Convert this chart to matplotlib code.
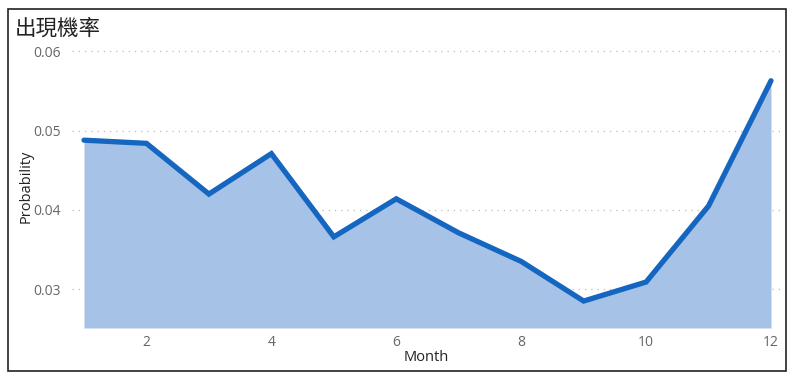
import matplotlib
matplotlib.use("Agg")
import matplotlib.pyplot as plt
from matplotlib.patches import Rectangle

plt.rcParams['font.family'] = ['Open Sans', 'Noto Sans CJK TC', 'DejaVu Sans']

# datos
meses = [1, 2, 3, 4, 5, 6, 7, 8, 9, 10, 11, 12]
probabilidad = [0.0488, 0.0484, 0.0420, 0.0471, 0.0366, 0.0414,
                0.0371, 0.0335, 0.0285, 0.0309, 0.0405, 0.0563]
ticks_y = [0.03, 0.04, 0.05, 0.06]
ticks_x = [2, 4, 6, 8, 10, 12]
titulo = "出現機率"

fig = plt.figure(figsize=(8, 3.82), dpi=100)
ax = fig.add_axes([0.09, 0.1414, 0.885, 0.7406])

y_min = 0.0251
ax.fill_between(meses, probabilidad, y_min, color='#a6c2e6', linewidth=0)
ax.plot(meses, probabilidad, color='#1466c0', linewidth=3.8,
        solid_capstyle='round', solid_joinstyle='miter')

ax.set_xlim(0.808, 12.144)
ax.set_ylim(y_min, 0.0608)
ax.set_yticks(ticks_y)
ax.set_yticklabels([f"{v:.2f}" for v in ticks_y])
ax.set_xticks(ticks_x)

ax.grid(axis='y', linestyle=(0, (1, 4)), color='#bbbbbb', linewidth=0.9)
ax.set_axisbelow(True)
for s in ax.spines.values():
    s.set_visible(False)
ax.tick_params(axis='y', length=0, labelsize=10, colors='#666666', pad=8)
ax.tick_params(axis='x', length=0, labelsize=10, colors='#666666', pad=5)

ax.set_xlabel("Month", fontsize=10.5, color='#222222', labelpad=0)
ax.set_ylabel("Probability", fontsize=10.5, color='#222222', labelpad=0)

fig.text(0.019, 0.908, titulo, fontsize=15.5, color='#222222',
         family=['Noto Sans CJK TC', 'DejaVu Sans'])

# marco exterior
fig.patches.append(Rectangle((8 / 800, 11 / 382), 778 / 800, 362 / 382,
                             transform=fig.transFigure, fill=False,
                             edgecolor='#222222', linewidth=1.2))

plt.savefig("out.png", dpi=100)
